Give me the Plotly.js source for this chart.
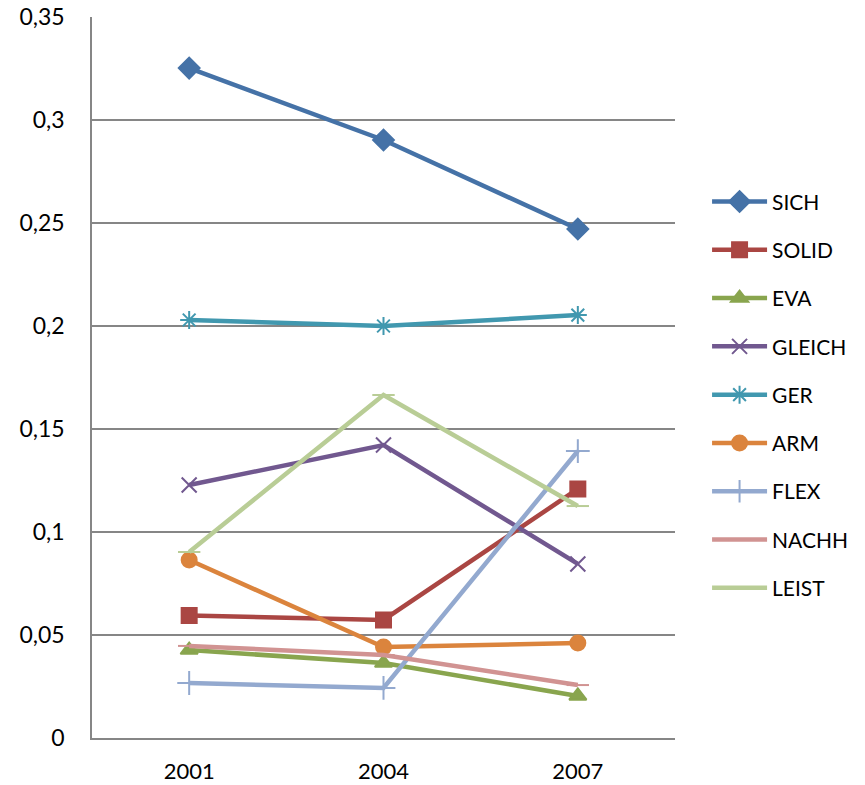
<!DOCTYPE html>
<html><head><meta charset="utf-8">
<script src="https://cdn.plot.ly/plotly-3.0.1.min.js"></script>
<style>body{margin:0;background:#fff}#c{width:865px;height:785px}</style>
</head><body><div id="c"></div>
<script>
const years = ['2001','2004','2007'];
const names = ['SICH','SOLID','EVA','GLEICH','GER','ARM','FLEX','NACHH','LEIST'];
const SICH   = [0.3252, 0.2903, 0.2471];
const SOLID  = [0.0595, 0.0573, 0.1209];
const EVA    = [0.0427, 0.0364, 0.0204];
const GLEICH = [0.1228, 0.1422, 0.0845];
const GER    = [0.2029, 0.2000, 0.2053];
const ARM    = [0.0864, 0.0442, 0.0461];
const FLEX   = [0.0267, 0.0243, 0.1393];
const NACHH  = [0.0447, 0.0403, 0.0257];
const LEIST  = [0.0903, 0.1665, 0.1126];
const series = [SICH, SOLID, EVA, GLEICH, GER, ARM, FLEX, NACHH, LEIST];
const colors = ['#4572A7','#AA4643','#89A54E','#71588F','#4198AF','#DB843D','#93A9CF','#D19392','#B9CD96'];
const symbols = ['diamond','square','triangle-up','x-thin-open','asterisk-open','circle','cross-thin-open','line-ew-open','line-ew-open'];
const sizes = [16,15,15,15,15,15,17,16,16];

const traces = series.map((s,i)=>({
  x: years, y: s, name: names[i], type:'scatter', mode:'lines+markers',
  legendgroup: 'g'+i,
  line:{color:colors[i], width:4.5},
  marker:{symbol:symbols[i], size:sizes[i], color:colors[i], line:{color:colors[i], width:2}}
}));

const layout = {
  width:865, height:785,
  margin:{l:92, r:190, t:17, b:47},
  separators:', ',
  paper_bgcolor:'#fff', plot_bgcolor:'#fff',
  font:{family:'Lato, "Open Sans", sans-serif', color:'#000'},
  showlegend:true,
  legend:{x:1.055, y:0.476, xanchor:'left', yanchor:'middle', font:{size:21}, tracegroupgap:18, itemwidth:55, traceorder:'grouped'},
  xaxis:{type:'category', range:[-0.5,2.5], showgrid:false, showline:true, linecolor:'#868686', linewidth:1.5,
         ticks:'', tickfont:{size:22}, ticklabelstandoff:13, zeroline:false},
  yaxis:{range:[0,0.35], dtick:0.05, showgrid:true, gridcolor:'#868686', gridwidth:1.5, showline:true,
         linecolor:'#868686', linewidth:1.5, ticks:'', tickfont:{size:23}, ticklabelstandoff:21, zeroline:false}
};
Plotly.newPlot('c', traces, layout, {displayModeBar:false});
</script></body></html>
